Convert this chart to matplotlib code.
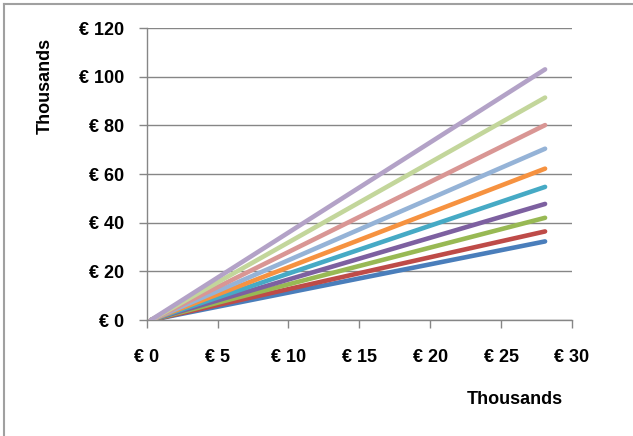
import matplotlib.pyplot as plt
from matplotlib.lines import Line2D

# line start/end (thousands of euro)
x_start = 0.3
x_end = 28.1
end_values = [32.3, 36.4, 42.0, 47.7, 54.7, 62.2, 70.4, 80.1, 91.4, 103.0]
colors = ["#4A7EBB", "#BE4B48", "#98B954", "#7D60A0", "#46AAC5",
          "#F69240", "#95B3D7", "#D99694", "#C3D69B", "#B3A2C7"]

x_ticks = [0, 5, 10, 15, 20, 25, 30]
y_ticks = [0, 20, 40, 60, 80, 100, 120]

plt.rcParams["font.family"] = ["Liberation Sans", "DejaVu Sans"]

fig = plt.figure(figsize=(6.33, 4.36), dpi=100)
ax = fig.add_axes([146.7 / 633, 1 - 320 / 436, (572 - 146.7) / 633, (320 - 28) / 436])

for yend, col in zip(end_values, colors):
    ax.plot([x_start, x_end], [0, yend], color=col, lw=3.3,
            solid_capstyle="round", zorder=3)

grey = "#868686"
ax.set_xlim(0, 30)
ax.set_ylim(0, 120)
ax.set_xticks(x_ticks)
ax.set_yticks(y_ticks)
ax.set_xticklabels([f"€ {v}" for v in x_ticks], fontsize=13, fontweight="bold")
ax.set_yticklabels([f"€ {v}" for v in y_ticks], fontsize=13, fontweight="bold")
ax.tick_params(axis="y", length=6, width=1, color=grey, pad=10)
ax.tick_params(axis="x", length=6, width=1, color=grey, pad=15)
ax.grid(axis="y", color=grey, lw=1)
ax.set_axisbelow(True)
for side in ["top", "right"]:
    ax.spines[side].set_visible(False)
for side in ["left", "bottom"]:
    ax.spines[side].set_color(grey)
    ax.spines[side].set_linewidth(1)

fig.text(45 / 633, 1 - 86 / 436, "Thousands", rotation=90, ha="center",
         va="center", fontsize=13, fontweight="bold")
fig.text(515 / 633, 1 - 399 / 436, "Thousands", ha="center",
         va="center", fontsize=13, fontweight="bold")

# chart frame (top and left edges visible)
fig.add_artist(Line2D([4 / 633, 1], [1 - 4 / 436] * 2, color="#A0A0A0", lw=1.5,
                      transform=fig.transFigure))
fig.add_artist(Line2D([4 / 633] * 2, [0, 1 - 4 / 436], color="#A0A0A0", lw=1.5,
                      transform=fig.transFigure))

fig.savefig("out.png", dpi=100)
